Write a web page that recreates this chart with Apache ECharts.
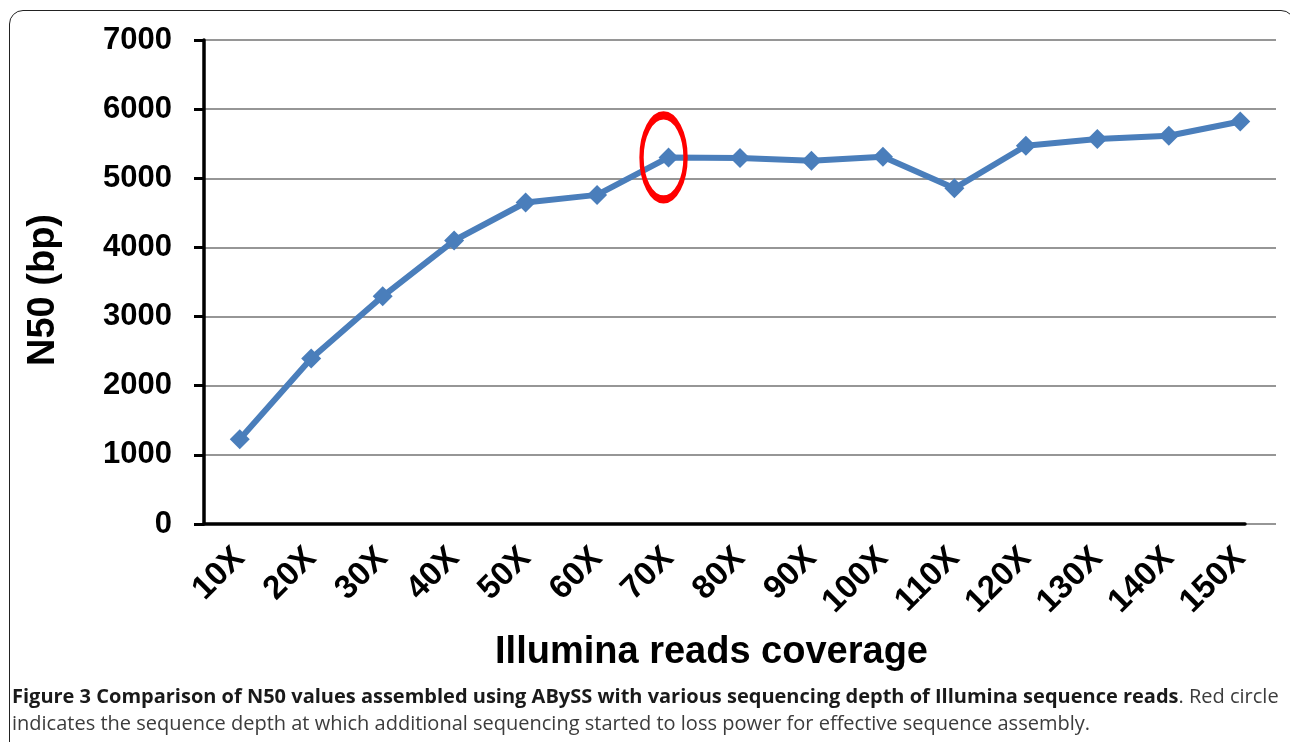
<!DOCTYPE html>
<html>
<head>
<meta charset="utf-8">
<script src="https://cdn.jsdelivr.net/npm/echarts@6/dist/echarts.min.js"></script>
<style>
  html, body { margin: 0; padding: 0; background: #fff; width: 1290px; height: 742px; overflow: hidden; }
  #frame { position: absolute; left: 9px; top: 10px; width: 1284px; height: 760px; border: 1.5px solid #222; border-radius: 14px; }
  #chart { position: absolute; left: 0; top: 0; width: 1290px; height: 742px; }
  #caption { position: absolute; left: 12px; top: 682px; font-family: "Open Sans", sans-serif; font-size: 20px; line-height: 27px; color: #3c3c3c; white-space: nowrap; }
  #caption b { color: #1a1a1a; }
</style>
</head>
<body>
<div id="frame"></div>
<div id="chart"></div>
<div id="caption"><b>Figure 3 Comparison of N50 values assembled using ABySS with various sequencing depth of Illumina sequence reads</b>. Red circle<br>indicates the sequence depth at which additional sequencing started to loss power for effective sequence assembly.</div>
<script>
// coverage levels and N50
const coverage = ['10X', '20X', '30X', '40X', '50X', '60X', '70X', '80X', '90X', '100X', '110X', '120X', '130X', '140X', '150X']
const n50 = [1226, 2394, 3293, 4100, 4650, 4760, 5302, 5293, 5255, 5312, 4855, 5471, 5567, 5615, 5821]
const yMin = 0
const yMax = 7000
const yStep = 1000
const circledIndex = 6 // 70X, where extra depth stops paying off

const chart = echarts.init(document.getElementById('chart'))
const font = 'Liberation Sans, Arial, sans-serif'

chart.setOption({
  animation: false,
  grid: [
    { left: 204, top: 40, width: 1072, height: 484 },
    // shorter grid only to carry the x axis line, it stops at the last point
    { left: 204, top: 40, width: 1041, height: 484 },
  ],
  xAxis: [
    {
      type: 'category', gridIndex: 0, data: coverage, boundaryGap: true,
      axisLine: { show: false },
      axisTick: { alignWithLabel: true, length: 10, lineStyle: { color: '#000', width: 3 } },
      // top padding nudges the slanted labels down-right like the original
      axisLabel: { interval: 0, rotate: 45, margin: 29, padding: [64, 0, 0, 0], fontFamily: font, fontWeight: 'bold', fontSize: 33, color: '#000' },
      splitLine: { show: false },
    },
    {
      type: 'value', gridIndex: 1, min: 0, max: 1,
      axisLine: { show: true, onZero: false, lineStyle: { color: '#000', width: 3.5 } },
      axisTick: { show: false }, axisLabel: { show: false }, splitLine: { show: false },
      name: 'Illumina reads coverage', nameLocation: 'middle', nameGap: 110,
      nameTextStyle: { fontFamily: font, fontWeight: 'bold', fontSize: 38, color: '#000', padding: [0, 26, 0, 0] },
    },
  ],
  yAxis: [
    {
      type: 'value', gridIndex: 0, min: yMin, max: yMax, interval: yStep,
      axisLine: { show: true, lineStyle: { color: '#000', width: 3.5 } },
      axisTick: { show: true, length: 10, lineStyle: { color: '#000', width: 3 } },
      axisLabel: { margin: 32, formatter: v => String(v), fontFamily: font, fontWeight: 'bold', fontSize: 31, color: '#000' },
      splitLine: { lineStyle: { color: '#969696', width: 2 } },
      name: 'N50 (bp)', nameLocation: 'middle', nameGap: 141,
      nameTextStyle: { fontFamily: font, fontWeight: 'bold', fontSize: 38, color: '#000', padding: [0, 16, 0, 0] },
    },
    { type: 'value', gridIndex: 1, min: yMin, max: yMax, show: false },
  ],
  series: [{
    type: 'line', xAxisIndex: 0, yAxisIndex: 0,
    data: n50,
    symbol: 'diamond', symbolSize: 20,
    lineStyle: { color: '#4a7ebb', width: 6 },
    itemStyle: { color: '#4a7ebb' },
    markPoint: {
      symbol: 'path://M0,42 A22,42 0 1,1 44,42 A22,42 0 1,1 0,42 Z',
      symbolSize: [44, 84],
      symbolOffset: [-5, 0],
      label: { show: false },
      itemStyle: { color: 'none', borderColor: '#ff0000', borderWidth: 6 },
      data: [{ coord: [circledIndex, n50[circledIndex]] }],
    },
  }],
})
</script>
</body>
</html>
